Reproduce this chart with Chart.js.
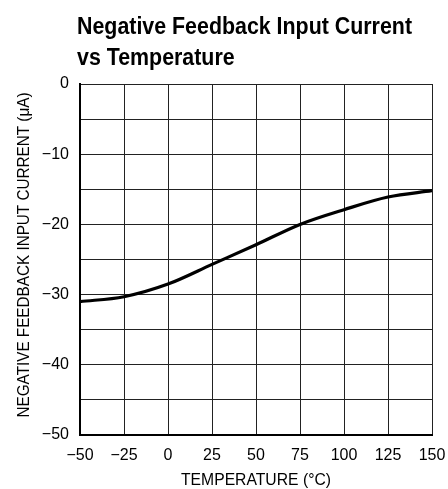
<!DOCTYPE html>
<html>
<head>
<meta charset="utf-8">
<script src="https://cdn.jsdelivr.net/npm/chart.js@4"></script>
<style>
  html, body { margin: 0; padding: 0; background: #fff; }
  #wrap { position: relative; width: 448px; height: 489px; }
</style>
</head>
<body>
<div id="wrap"><canvas id="chart" width="448" height="489"></canvas></div>
<script>
const TITLE_LINES = ["Negative Feedback Input Current", "vs Temperature"];
const X_TITLE = "TEMPERATURE (°C)";
const Y_TITLE = "NEGATIVE FEEDBACK INPUT CURRENT (μA)";

// temperature (°C) and current (µA) at each grid column
const temperatures = [-50, -25, 0, 25, 50, 75, 100, 125, 150];
const currents = [-31.0, -30.3, -28.5, -25.7, -22.9, -20.0, -17.9, -16.1, -15.2];

const FONT = "'Liberation Sans', Arial, sans-serif";
const TITLE_FONT = `bold 23px ${FONT}`;
const AXIS_FONT = `17px ${FONT}`;
const minus = (v) => (v < 0 ? "\u2212" + Math.abs(v) : String(v));

// no narrow face is installed, so squeeze text horizontally (sx) for the datasheet's condensed look
function condensedText(ctx, text, x, y, sx, opts) {
  ctx.save();
  ctx.font = opts.font;
  ctx.fillStyle = "#000";
  ctx.textBaseline = opts.baseline || "alphabetic";
  ctx.textAlign = opts.align || "left";
  ctx.translate(x, y);
  if (opts.rotate) {
    ctx.rotate(opts.rotate);
  }
  ctx.scale(sx, 1);
  ctx.fillText(text, 0, 0);
  ctx.restore();
}

function squeezeFor(ctx, font, text, width) {
  ctx.save();
  ctx.font = font;
  const w = ctx.measureText(text).width;
  ctx.restore();
  return width / w;
}

const labelsPlugin = {
  id: "sheetLabels",
  afterDraw(chart) {
    const { ctx, chartArea } = chart;
    const left = chartArea.left - 3;
    // both title lines share the squeeze that makes line one 335px wide
    const sxTitle = squeezeFor(ctx, TITLE_FONT, TITLE_LINES[0], 335);
    condensedText(ctx, TITLE_LINES[0], left, 34, sxTitle, { font: TITLE_FONT });
    condensedText(ctx, TITLE_LINES[1], left, 65, sxTitle, { font: TITLE_FONT });

    const cx = (chartArea.left + chartArea.right) / 2;
    const sxX = squeezeFor(ctx, AXIS_FONT, X_TITLE, 150);
    condensedText(ctx, X_TITLE, cx, 480, sxX, { font: AXIS_FONT, align: "center", baseline: "middle" });
    const sxY = squeezeFor(ctx, AXIS_FONT, Y_TITLE, 325);
    condensedText(ctx, Y_TITLE, 24, 255, sxY, { font: AXIS_FONT, align: "center", baseline: "middle", rotate: -Math.PI / 2 });
  },
};

new Chart(document.getElementById("chart"), {
  type: "line",
  data: {
    datasets: [{
      data: temperatures.map((t, i) => ({ x: t, y: currents[i] })),
      borderColor: "#000",
      borderWidth: 3.2,
      pointRadius: 0,
      fill: false,
      cubicInterpolationMode: "monotone",
    }],
  },
  options: {
    responsive: false,
    animation: false,
    layout: { padding: { top: 84, right: 0, bottom: 0, left: 0 } },
    plugins: { legend: { display: false }, tooltip: { enabled: false } },
    scales: {
      x: {
        type: "linear",
        min: -50,
        max: 150,
        afterFit(scale) {
          scale.height = 54;
          scale.paddingLeft = 0;
          scale.paddingRight = 16;
        },
        ticks: {
          stepSize: 25,
          padding: 11,
          maxRotation: 0,
          autoSkip: false,
          color: "#000",
          font: { family: FONT, size: 16 },
          callback: (v) => minus(v),
        },
        grid: { color: "#222", lineWidth: 1, drawTicks: false },
        border: { color: "#000", width: 2 },
      },
      y: {
        min: -50,
        max: 0,
        afterFit(scale) {
          scale.width = 80;
          scale.paddingTop = 0;
          scale.paddingBottom = 0;
        },
        ticks: {
          stepSize: 5,
          padding: 11,
          autoSkip: false,
          color: "#000",
          font: { family: FONT, size: 16 },
          callback: (v) => (v % 10 === 0 ? minus(v) : ""),
        },
        grid: { color: "#222", lineWidth: 1, drawTicks: false },
        border: { color: "#000", width: 2 },
      },
    },
  },
  plugins: [labelsPlugin],
});
</script>
</body>
</html>
